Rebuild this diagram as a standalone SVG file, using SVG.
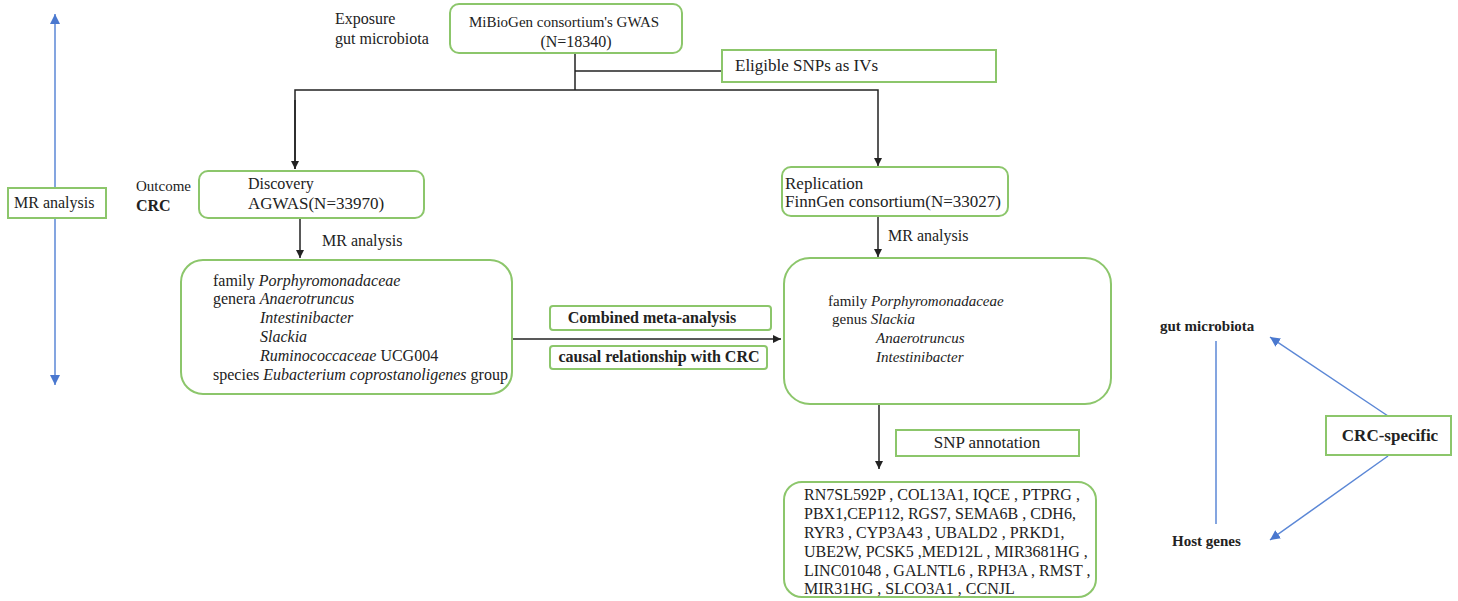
<svg xmlns="http://www.w3.org/2000/svg" width="1458" height="601" viewBox="0 0 1458 601">
<style>
text{font-family:"Liberation Serif","DejaVu Serif",serif;font-size:15px;fill:#222}
.b{font-weight:bold}
.i{font-style:italic}
.s16{font-size:16px}
.s17{font-size:17px}
.box{fill:#fff;stroke:#8cc66b;stroke-width:2}
.ln{stroke:#222;stroke-width:1.5;fill:none}
.bl{stroke:#5b87d6;stroke-width:1.5;fill:none}
</style>
<defs>
<marker id="ah" markerWidth="10" markerHeight="10" refX="8" refY="4" orient="auto" markerUnits="userSpaceOnUse"><path d="M0,0 L8,4 L0,8 Z" fill="#222"/></marker>
<marker id="bh" markerWidth="12" markerHeight="10" refX="10" refY="5" orient="auto-start-reverse" markerUnits="userSpaceOnUse"><path d="M0,0 L10,5 L0,10 Z" fill="#4a78cf"/></marker>
</defs>
<g id="connectors">
<line class="bl" x1="55" y1="14" x2="55" y2="385" marker-start="url(#bh)" marker-end="url(#bh)"/>
<polyline class="ln" points="575,53 575,90"/>
<line class="ln" x1="575" y1="71" x2="722" y2="71"/>
<polyline class="ln" points="295,169 295,90 878,90 878,166" marker-end="url(#ah)"/>
<line class="ln" x1="295" y1="100" x2="295" y2="169" marker-end="url(#ah)"/>
<line class="ln" x1="300" y1="219" x2="300" y2="258" marker-end="url(#ah)"/>
<line class="ln" x1="878" y1="217" x2="878" y2="257" marker-end="url(#ah)"/>
<line class="ln" x1="513" y1="339" x2="781" y2="339" marker-end="url(#ah)"/>
<line class="ln" x1="879" y1="405" x2="879" y2="469" marker-end="url(#ah)"/>
<line class="bl" x1="1216" y1="341" x2="1216" y2="524"/>
<line class="bl" x1="1388" y1="416" x2="1270" y2="337" marker-end="url(#bh)"/>
<line class="bl" x1="1388" y1="456" x2="1270" y2="540" marker-end="url(#bh)"/>
</g>
<g id="mr-side">
<rect class="box" x="8" y="188" width="98" height="30"/>
<text x="14" y="208" class="s16">MR analysis</text>
</g>
<g id="exposure-label">
<text x="335" y="24" class="s16">Exposure</text>
<text x="335" y="44" class="s16">gut microbiota</text>
</g>
<g id="mibiogen">
<rect class="box" x="450" y="4" width="232" height="49" rx="9"/>
<text x="564" y="27" text-anchor="middle">MiBioGen consortium's GWAS</text>
<text x="576" y="47" text-anchor="middle" class="s16">(N=18340)</text>
</g>
<g id="eligible">
<rect class="box" x="722" y="50" width="274" height="32"/>
<text x="735" y="71" class="s17">Eligible SNPs as IVs</text>
</g>
<g id="outcome-label">
<text x="136" y="191">Outcome</text>
<text x="136" y="211" class="b s16">CRC</text>
</g>
<g id="discovery">
<rect class="box" x="199" y="171" width="225" height="47" rx="9"/>
<text x="248" y="189" class="s16">Discovery</text>
<text x="248" y="209" class="s17">AGWAS(N=33970)</text>
</g>
<g id="replication">
<rect class="box" x="782" y="167" width="226" height="49" rx="9"/>
<text x="785" y="189" class="s17">Replication</text>
<text x="785" y="207" class="s17">FinnGen consortium(N=33027)</text>
</g>
<g id="mr-left-label"><text x="322" y="246" class="s16">MR analysis</text></g>
<g id="mr-right-label"><text x="888" y="241" class="s16">MR analysis</text></g>
<g id="discovery-results" class="s16">
<rect class="box" x="181" y="260" width="331" height="134" rx="22"/>
<text x="213" y="286" class="s16">family <tspan class="i">Porphyromonadaceae</tspan></text>
<text x="213" y="304" class="s16">genera <tspan class="i">Anaerotruncus</tspan></text>
<text x="260" y="323" class="i s16">Intestinibacter</text>
<text x="260" y="342" class="i s16">Slackia</text>
<text x="260" y="361" class="s16"><tspan class="i">Ruminococcaceae</tspan> UCG004</text>
<text x="213" y="380" class="s16">species <tspan class="i">Eubacterium coprostanoligenes</tspan> group</text>
</g>
<g id="combined">
<rect class="box" x="550" y="306" width="221" height="24" rx="3"/>
<text x="652" y="323" text-anchor="middle" class="b s16">Combined meta-analysis</text>
</g>
<g id="causal">
<rect class="box" x="550" y="346" width="217" height="23" rx="3"/>
<text x="659" y="362" text-anchor="middle" class="b s16">causal relationship with CRC</text>
</g>
<g id="replication-results">
<rect class="box" x="784" y="258" width="327" height="146" rx="26"/>
<text x="828" y="306">family <tspan class="i">Porphyromonadaceae</tspan></text>
<text x="832" y="324">genus <tspan class="i">Slackia</tspan></text>
<text x="876" y="343" class="i">Anaerotruncus</text>
<text x="876" y="362" class="i">Intestinibacter</text>
</g>
<g id="snp-annotation">
<rect class="box" x="896" y="430" width="183" height="26"/>
<text x="987" y="448" text-anchor="middle" class="s17">SNP annotation</text>
</g>
<g id="genes">
<rect class="box" x="784" y="482" width="312" height="115" rx="18"/>
<text x="804" y="500" class="s16">RN7SL592P , COL13A1, IQCE , PTPRG ,</text>
<text x="804" y="519" class="s16">PBX1,CEP112, RGS7, SEMA6B , CDH6,</text>
<text x="804" y="538" class="s16">RYR3 , CYP3A43 , UBALD2 , PRKD1,</text>
<text x="804" y="557" class="s16">UBE2W, PCSK5 ,MED12L , MIR3681HG ,</text>
<text x="804" y="576" class="s16">LINC01048 , GALNTL6 , RPH3A , RMST ,</text>
<text x="804" y="594" class="s16">MIR31HG , SLCO3A1 , CCNJL</text>
</g>
<g id="gut-microbiota"><text x="1160" y="331" class="b">gut microbiota</text></g>
<g id="host-genes"><text x="1172" y="546" class="b">Host genes</text></g>
<g id="crc-specific">
<rect class="box" x="1326" y="416" width="125" height="39"/>
<text x="1390" y="441" text-anchor="middle" class="b s17">CRC-specific</text>
</g>
</svg>
